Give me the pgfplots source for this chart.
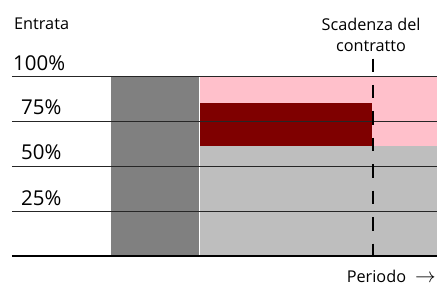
\documentclass[border=0pt]{standalone}
\usepackage{pgfplots}
\pgfplotsset{compat=1.18}
\usepackage{fontspec}
\setmainfont{Open Sans}
\definecolor{dgray}{HTML}{808080}
\definecolor{lgray}{HTML}{BEBEBE}
\definecolor{pinkc}{HTML}{FFC0CB}
\definecolor{dred}{HTML}{7F0000}
\newcommand{\txt}{\fontsize{16.3bp}{18bp}\selectfont}
\newcommand{\pct}{\fontsize{20.5bp}{22bp}\selectfont}
\begin{document}
\begin{tikzpicture}
\begin{axis}[
  scale only axis, width=438bp, height=287bp,
  xmin=0, xmax=438, ymin=-16.64, ymax=142.54,
  hide axis, clip=false]
\path (rel axis cs:0,0) rectangle (rel axis cs:1,1);
% bars
\addplot[draw=none, fill=dgray] coordinates {(111,0)(111,100)(199,100)(199,0)} -- cycle;
\addplot[draw=none, fill=lgray] coordinates {(200,0)(200,61.2)(438,61.2)(438,0)} -- cycle;
\addplot[draw=none, fill=pinkc] coordinates {(200,61.2)(200,100)(438,100)(438,61.2)} -- cycle;
\addplot[draw=none, fill=dred] coordinates {(200,61.2)(200,85.4)(373,85.4)(373,61.2)} -- cycle;
% grid lines
\addplot[line width=1.1bp, color=black!85] coordinates {(12,100)(438,100)};
\addplot[line width=1.1bp, color=black!85] coordinates {(12,75)(438,75)};
\addplot[line width=1.1bp, color=black!85] coordinates {(12,50)(438,50)};
\addplot[line width=1.1bp, color=black!85] coordinates {(12,25)(438,25)};
\addplot[line width=2.2bp, color=black] coordinates {(12,0)(438,0)};
% contract expiry
\addplot[line width=2bp, color=black, dash pattern=on 13.5bp off 13bp] coordinates {(373.7,110)(373.7,0)};
% texts
\node[anchor=base west, inner sep=0pt] at (axis cs:14,125.9) {\txt Entrata};
\node[anchor=base west, inner sep=0pt] at (axis cs:13,103.3) {\pct 100\%};
\node[anchor=base west, inner sep=0pt] at (axis cs:21,78.8) {\pct 75\%};
\node[anchor=base west, inner sep=0pt] at (axis cs:21,53.8) {\pct 50\%};
\node[anchor=base west, inner sep=0pt] at (axis cs:21,28.5) {\pct 25\%};
\node[anchor=base, inner sep=0pt] at (axis cs:372,125.5) {\txt Scadenza del};
\node[anchor=base, inner sep=0pt] at (axis cs:372,113.9) {\txt contratto};
\node[anchor=base west, inner sep=0pt] at (axis cs:347.5,-14.6) {\txt Periodo};
\node[anchor=base east, inner sep=0pt] at (axis cs:437,-14.6) {\fontsize{21bp}{22bp}\selectfont$\rightarrow$};
\end{axis}
\end{tikzpicture}
\end{document}
